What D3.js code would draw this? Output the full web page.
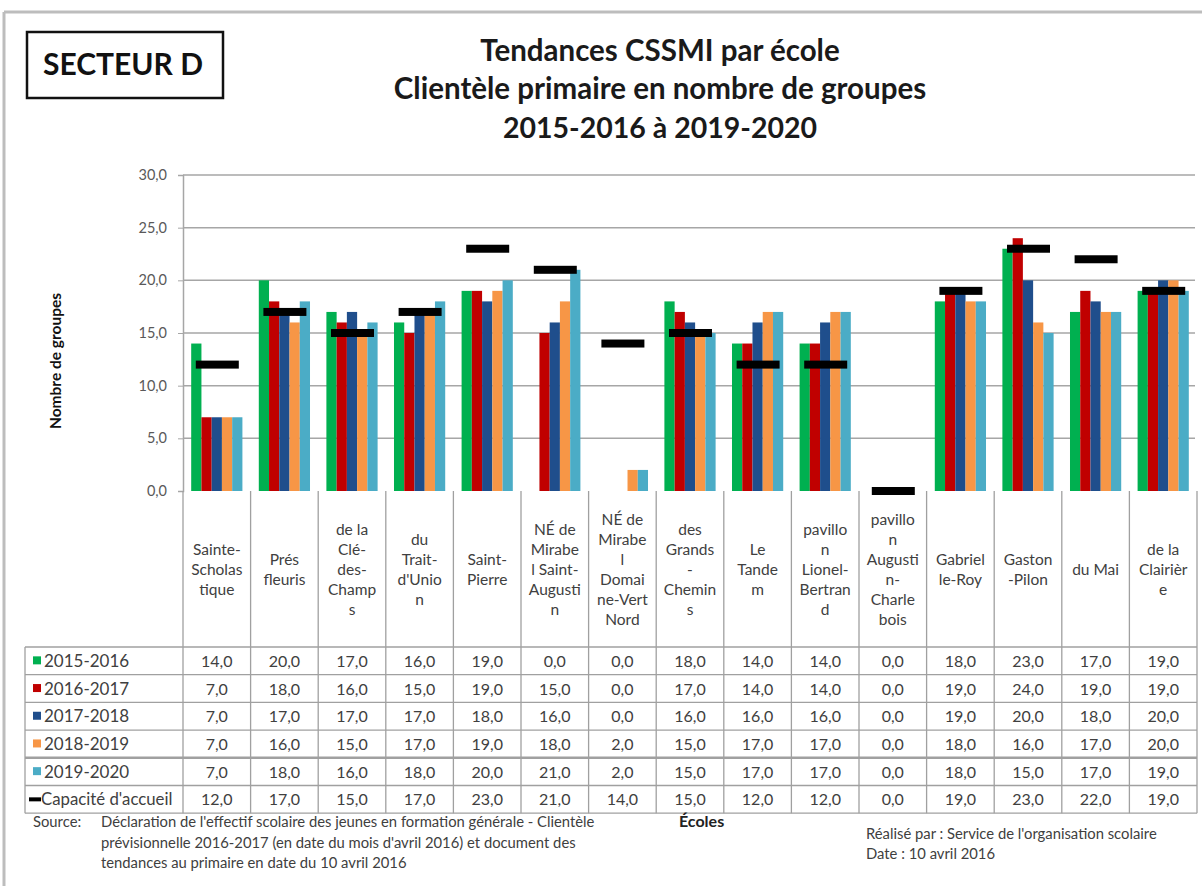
<!DOCTYPE html>
<html><head><meta charset="utf-8">
<script src="https://cdn.jsdelivr.net/npm/d3@7"></script>
<style>
html,body{margin:0;padding:0;background:#fff;}
svg{display:block;font-family:Lato,"Open Sans",sans-serif;}
</style></head>
<body>
<svg id="c" width="1202" height="886"></svg>
<script>
// ---------- DATA ----------
const categories = [
  ["Sainte-","Scholas","tique"],
  ["Prés","fleuris"],
  ["de la","Clé-","des-","Champ","s"],
  ["du","Trait-","d'Unio","n"],
  ["Saint-","Pierre"],
  ["NÉ de","Mirabe","l Saint-","Augusti","n"],
  ["NÉ de","Mirabe","l","Domai","ne-Vert","Nord"],
  ["des","Grands","-","Chemin","s"],
  ["Le","Tande","m"],
  ["pavillo","n","Lionel-","Bertran","d"],
  ["pavillo","n","Augusti","n-","Charle","bois"],
  ["Gabriel","le-Roy"],
  ["Gaston","-Pilon"],
  ["du Mai"],
  ["de la","Clairièr","e"]
];
const seriesNames = ["2015-2016","2016-2017","2017-2018","2018-2019","2019-2020"];
const v2015 = [14,20,17,16,19,0,0,18,14,14,0,18,23,17,19];
const v2016 = [7,18,16,15,19,15,0,17,14,14,0,19,24,19,19];
const v2017 = [7,17,17,17,18,16,0,16,16,16,0,19,20,18,20];
const v2018 = [7,16,15,17,19,18,2,15,17,17,0,18,16,17,20];
const v2019 = [7,18,16,18,20,21,2,15,17,17,0,18,15,17,19];
const capacite = [12,17,15,17,23,21,14,15,12,12,0,19,23,22,19];
const capaciteName = "Capacité d'accueil";
const yTicks = [0,5,10,15,20,25,30];
const seriesColors = ["#00B050","#C00000","#1F4E8C","#F79646","#4BACC6"];

const seriesValues = [v2015,v2016,v2017,v2018,v2019];
const fmt = v => d3.format(".1f")(v).replace(".", ",");

// ---------- LAYOUT ----------
const svg = d3.select("#c");
const L = 183, R = 1197, T = 175, B = 491;
const headerBottom = 647, rowH = 27.7, tableLeft = 25;
const textCol = "#404040";

// frame
svg.append("line").attr("x1",4).attr("x2",1202).attr("y1",12).attr("y2",12).attr("stroke","#BDBDBD").attr("stroke-width",3);
svg.append("line").attr("x1",4).attr("x2",4).attr("y1",12).attr("y2",886).attr("stroke","#BDBDBD").attr("stroke-width",3);

// Secteur box
svg.append("rect").attr("x",27).attr("y",32).attr("width",196).attr("height",66).attr("fill","none").attr("stroke","#111").attr("stroke-width",2.5);
svg.append("text").attr("x",123).attr("y",75).attr("text-anchor","middle").attr("font-size",30).attr("font-weight","bold").attr("fill","#111").text("SECTEUR D");

// Title
const titleLines = ["Tendances CSSMI par école","Clientèle primaire en nombre de groupes","2015-2016 à 2019-2020"];
const titleY = [61,99,138];
const titleSize = [29.5,29.5,28.5];
titleLines.forEach((t,i)=>{
  svg.append("text").attr("x",660).attr("y",titleY[i]).attr("text-anchor","middle")
    .attr("font-size",titleSize[i]).attr("font-weight","bold").attr("fill","#1a1a1a").text(t);
});

// scales
const x = d3.scaleBand().domain(d3.range(categories.length)).range([L,R]).paddingInner(0).paddingOuter(0);
const x1 = d3.scaleBand().domain(d3.range(seriesNames.length)).range([0,x.bandwidth()]).paddingInner(0).paddingOuter(0.8);
const y = d3.scaleLinear().domain([0,30]).range([B,T]);

// gridlines
svg.append("g").selectAll("line").data(yTicks.filter(d=>d>0)).join("line")
  .attr("x1",L).attr("x2",1195).attr("y1",d=>y(d)).attr("y2",d=>y(d))
  .attr("stroke","#A6A6A6").attr("stroke-width",1.5);

// y axis
const yAxis = d3.axisLeft(y).tickValues(yTicks).tickSize(5).tickPadding(11).tickFormat(fmt);
const ga = svg.append("g").attr("transform",`translate(${L},0)`).call(yAxis);
ga.select(".domain").attr("stroke","#A6A6A6").attr("stroke-width",1.5);
ga.selectAll(".tick line").attr("stroke","#A6A6A6");
ga.selectAll(".tick text").attr("font-size",14.5).attr("fill","#595959").attr("font-family","Lato");

svg.append("text").attr("transform","translate(61,361) rotate(-90)").attr("text-anchor","middle")
  .attr("font-size",15.5).attr("font-weight","bold").attr("fill","#111").text("Nombre de groupes");

// bars
const gBars = svg.append("g");
seriesValues.forEach((vals,si)=>{
  gBars.append("g").selectAll("rect").data(vals).join("rect")
    .attr("x",(d,i)=>x(i)+x1(si))
    .attr("width",x1.bandwidth())
    .attr("y",d=>y(d))
    .attr("height",d=>B-y(d))
    .attr("fill",seriesColors[si]);
});

// table lines
const tg = svg.append("g").attr("stroke","#A0A0A0").attr("stroke-width",1.3);
const bounds = d3.range(categories.length+1).map(i=> i<categories.length ? x(i) : R);
const tableBottom = headerBottom + rowH*6;
bounds.forEach(bx=>{
  tg.append("line").attr("x1",bx).attr("x2",bx).attr("y1",B).attr("y2",tableBottom);
});
tg.append("line").attr("x1",tableLeft).attr("x2",tableLeft).attr("y1",headerBottom).attr("y2",tableBottom);
d3.range(7).forEach(r=>{
  const yy = headerBottom + r*rowH;
  tg.append("line").attr("x1",tableLeft).attr("x2",R).attr("y1",yy).attr("y2",yy)
    .attr("stroke-width", r===4 ? 2.6 : 1.3);
});

// capacity markers
svg.append("g").selectAll("rect").data(capacite).join("rect")
  .attr("x",(d,i)=>x(i)+x.bandwidth()/2-21)
  .attr("width",43)
  .attr("y",d=>y(d)-4)
  .attr("height",8)
  .attr("fill","#000");

// category labels
const lh = 20;
categories.forEach((lines,i)=>{
  const cx = x(i)+x.bandwidth()/2;
  const cy = (B+headerBottom)/2;
  const t = svg.append("text").attr("text-anchor","middle").attr("font-size",15.5).attr("fill",textCol);
  lines.forEach((ln,k)=>{
    t.append("tspan").attr("x",cx).attr("y",cy + (k-(lines.length-1)/2)*lh + 5.5).text(ln);
  });
});

// table rows
const rowNames = seriesNames.concat([capaciteName]);
const rowVals = seriesValues.concat([capacite]);
rowNames.forEach((nm,r)=>{
  const cy = headerBottom + r*rowH + rowH/2;
  if(r<5){
    svg.append("rect").attr("x",33).attr("y",cy-4.5).attr("width",8).attr("height",8).attr("fill",seriesColors[r]);
  } else {
    svg.append("rect").attr("x",29).attr("y",cy-2).attr("width",12).attr("height",4).attr("fill","#000");
  }
  svg.append("text").attr("x",r<5?44:41).attr("y",cy+6).attr("font-size",r<5?17:16.8).attr("fill",textCol).text(nm);
  rowVals[r].forEach((v,i)=>{
    svg.append("text").attr("x",x(i)+x.bandwidth()/2).attr("y",cy+6).attr("text-anchor","middle")
      .attr("font-size",16).attr("fill",textCol).text(fmt(v));
  });
});

// footer
const ft = svg.append("g").attr("font-size",14.8).attr("fill",textCol);
ft.append("text").attr("x",33).attr("y",827).text("Source:");
const srcLines = ["Déclaration de l'effectif scolaire des jeunes en formation générale - Clientèle",
  "prévisionnelle 2016-2017 (en date du mois d'avril 2016) et document des",
  "tendances au primaire en date du 10 avril 2016"];
srcLines.forEach((s,k)=> ft.append("text").attr("x",101).attr("y",827+k*20.5).text(s));
svg.append("text").attr("x",679).attr("y",827).attr("font-size",16).attr("font-weight","bold").attr("fill","#222").text("Écoles");
ft.append("text").attr("x",866).attr("y",839).text("Réalisé par : Service de l'organisation scolaire");
ft.append("text").attr("x",866).attr("y",859).text("Date : 10 avril 2016");
</script>
</body></html>
